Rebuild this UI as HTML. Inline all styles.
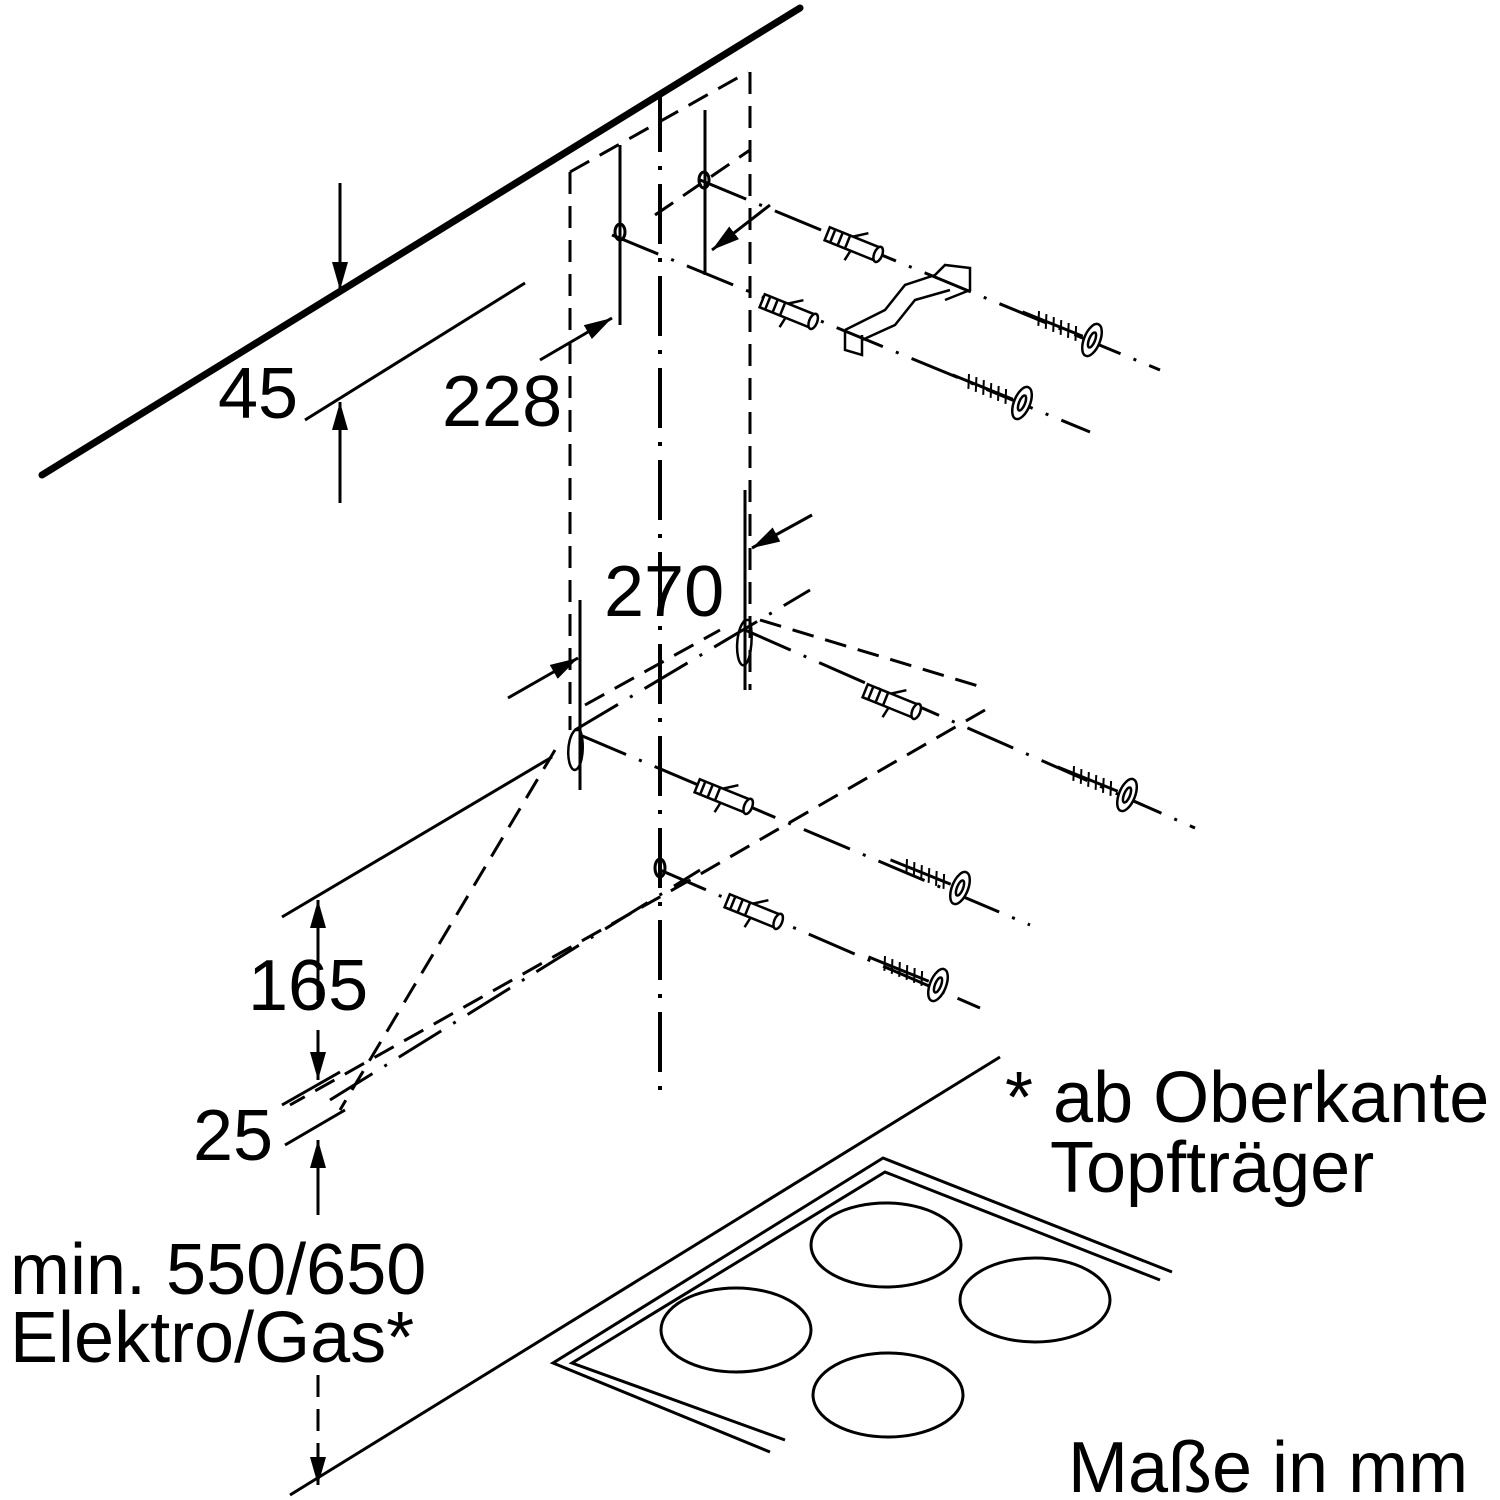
<!DOCTYPE html>
<html><head><style>body{margin:0;background:#fff}svg{display:block}</style></head><body>
<svg width="1500" height="1500" viewBox="0 0 1500 1500" xmlns="http://www.w3.org/2000/svg" font-family="Liberation Sans, sans-serif">
<defs>
<marker id="ah" viewBox="0 0 28 16" refX="28" refY="8" markerWidth="28" markerHeight="16" orient="auto-start-reverse" markerUnits="userSpaceOnUse"><path d="M0,0 L28,8 L0,16z" fill="#000"/></marker>
<g id="dowel" fill="#fff" stroke="#000" stroke-width="2.5">
<path d="M-30,-7 L25,-7 L25,7 L-30,7 Z"/>
<ellipse cx="25" cy="0" rx="4" ry="8"/>
<path d="M-5,-7 L8,-16 M-2,7 L-4,18 M-24,-7 v14 M-16,-7 v14 M-8,-7 v14" fill="none"/>
</g>
<g id="screw" fill="#fff" stroke="#000" stroke-width="2.5">
<path d="M-75,0 L-10,0" stroke-width="3"/>
<path d="M-60,-7 L-55,7 M-52,-7 L-47,7 M-44,-7 L-39,7 M-36,-7 L-31,7 M-28,-7 L-23,7 M-20,-7 L-15,7" stroke-width="2"/>
<ellipse cx="0" cy="0" rx="8" ry="17"/>
<ellipse cx="0" cy="0" rx="3" ry="8"/>
</g>
</defs>
<g stroke="#000" fill="none" stroke-width="3">
<line x1="42" y1="475" x2="800" y2="8" stroke-width="7" stroke-linecap="round"/>
<line x1="340" y1="183" x2="340" y2="290" marker-end="url(#ah)"/>
<line x1="340" y1="503" x2="340" y2="402" marker-end="url(#ah)"/>
<line x1="305" y1="420" x2="525" y2="283"/>
<line x1="540" y1="360" x2="612" y2="318" marker-end="url(#ah)"/>
<line x1="770" y1="205" x2="712" y2="250" marker-end="url(#ah)"/>
<line x1="620" y1="145" x2="620" y2="325"/>
<line x1="705" y1="110" x2="705" y2="275"/>
<g stroke-dasharray="22,12">
<line x1="570" y1="172" x2="570" y2="730"/>
<line x1="750" y1="72" x2="750" y2="690"/>
<line x1="570" y1="172" x2="748" y2="72"/>
<line x1="655" y1="215" x2="750" y2="150"/>
<line x1="585" y1="705" x2="720" y2="630"/>
<line x1="760" y1="620" x2="985" y2="688"/>
<line x1="985" y1="710" x2="690" y2="880"/>
<line x1="555" y1="750" x2="340" y2="1110"/>
<line x1="690" y1="880" x2="290" y2="1105"/>
</g>
<line x1="660" y1="92" x2="660" y2="1100" stroke-dasharray="60,14,4,14" stroke-width="4"/>
<g stroke-dasharray="50,14,3,14">
<line x1="700" y1="180" x2="1160" y2="370"/>
<line x1="612" y1="235" x2="1090" y2="432"/>
<line x1="745" y1="630" x2="1195" y2="828"/>
<line x1="580" y1="735" x2="1030" y2="925"/>
<line x1="660" y1="870" x2="980" y2="1008"/>
<line x1="575" y1="730" x2="810" y2="590"/>
<line x1="330" y1="1100" x2="700" y2="870"/>
</g>
<ellipse cx="620" cy="232" rx="5" ry="8"/>
<ellipse cx="704" cy="180" rx="5" ry="8"/>
<ellipse cx="660" cy="868" rx="5" ry="9"/>
<path d="M745,620 c-10,10 -10,40 -3,45 c8,3 12,-25 8,-45z" stroke-width="2.5"/>
<path d="M575,730 c-10,10 -8,40 0,40 c8,-2 10,-28 5,-40z" stroke-width="2.5"/>
<line x1="745" y1="490" x2="745" y2="690"/>
<line x1="580" y1="600" x2="580" y2="790"/>
<line x1="812" y1="515" x2="752" y2="548" marker-end="url(#ah)"/>
<line x1="508" y1="698" x2="578" y2="658" marker-end="url(#ah)"/>
<path d="M845,330 L885,310 L905,285 L935,275 L945,265 L970,268 L970,290 L945,300 M845,330 L845,350 L862,355 L862,335" stroke-width="2.5"/>
<path d="M862,340 L895,325 L915,300 L950,290" stroke-width="2.5"/>
<line x1="282" y1="917" x2="552" y2="757"/>
<line x1="282" y1="1105" x2="340" y2="1072"/>
<line x1="285" y1="1145" x2="345" y2="1110"/>
<line x1="318" y1="1000" x2="318" y2="900" marker-end="url(#ah)"/>
<line x1="318" y1="1030" x2="318" y2="1080" marker-end="url(#ah)"/>
<line x1="318" y1="1215" x2="318" y2="1140" marker-end="url(#ah)"/>
<line x1="318" y1="1375" x2="318" y2="1485" stroke-dasharray="22,12" marker-end="url(#ah)"/>
<line x1="290" y1="1495" x2="1000" y2="1057"/>
<path d="M770,1452 L553,1363 L883,1158 L1172,1272"/>
<path d="M785,1440 L572,1363 L885,1172 L1160,1280"/>
<ellipse cx="886" cy="1245" rx="75" ry="42"/>
<ellipse cx="1035" cy="1300" rx="75" ry="42"/>
<ellipse cx="736" cy="1330" rx="75" ry="42"/>
<ellipse cx="888" cy="1395" rx="75" ry="42"/>
</g>
<use href="#dowel" transform="translate(855,245) rotate(22)"/>
<use href="#dowel" transform="translate(790,312) rotate(22)"/>
<use href="#dowel" transform="translate(893,702) rotate(22)"/>
<use href="#dowel" transform="translate(725,797) rotate(22)"/>
<use href="#dowel" transform="translate(755,912) rotate(22)"/>
<use href="#screw" transform="translate(1092,340) rotate(22)"/>
<use href="#screw" transform="translate(1022,403) rotate(22)"/>
<use href="#screw" transform="translate(1127,795) rotate(22)"/>
<use href="#screw" transform="translate(960,888) rotate(22)"/>
<use href="#screw" transform="translate(938,985) rotate(22)"/>
<g font-size="72" fill="#000">
<text x="218" y="418">45</text>
<text x="442" y="426">228</text>
<text x="604" y="616">270</text>
<text x="248" y="1010">165</text>
<text x="193" y="1160">25</text>
<text x="10" y="1294">min. 550/650</text>
<text x="10" y="1362">Elektro/Gas*</text>
<text x="1005" y="1122">* ab Oberkante</text>
<text x="1050" y="1192">Topfträger</text>
<text x="1068" y="1492">Maße in mm</text>
</g>
</svg>
</body></html>
